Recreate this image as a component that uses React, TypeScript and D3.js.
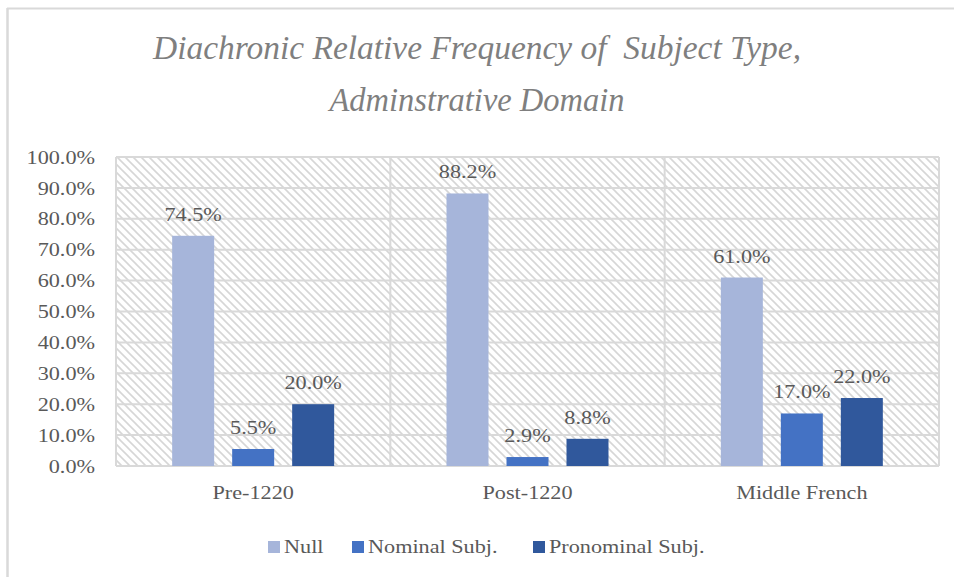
import React from "react";
import * as d3 from "d3";

const categories = ["Pre-1220", "Post-1220", "Middle French"];
const seriesNames = ["Null", "Nominal Subj.", "Pronominal Subj."];
const nullValues = [74.5, 88.2, 61.0];
const nominalValues = [5.5, 2.9, 17.0];
const pronominalValues = [20.0, 8.8, 22.0];
const yTicks = [0, 10, 20, 30, 40, 50, 60, 70, 80, 90, 100];
const colors = ["#a6b5da", "#4472c4", "#30589c"];
const titleLines = ["Diachronic Relative Frequency of\u00a0 Subject Type,", "Adminstrative Domain"];

const W = 954;
const H = 577;
const plot = { left: 116, right: 939, top: 157, bottom: 466 };
const FONT = "Liberation Serif, DejaVu Serif, serif";
const SX = 1.17;

function SText(props: { x: number; y: number; anchor?: string; dy?: string; children: React.ReactNode }) {
  return (
    <text
      transform={`translate(${props.x},${props.y}) scale(${SX},1)`}
      dy={props.dy}
      textAnchor={props.anchor || "start"}
      fontFamily={FONT}
      fontSize={19}
      fill="#595959"
    >
      {props.children}
    </text>
  );
}

export default function App() {
  const series = [nullValues, nominalValues, pronominalValues];
  const x = d3.scaleBand<string>().domain(categories).range([plot.left, plot.right]).padding(0);
  const y = d3.scaleLinear().domain([0, 100]).range([plot.bottom, plot.top]);
  const inner = d3
    .scaleBand<string>()
    .domain(seriesNames)
    .range([-81, 81])
    .paddingInner(0.3)
    .paddingOuter(0);

  const legendX = [268, 352, 533];

  return (
    <svg width={W} height={H} style={{ position: "absolute", left: 0, top: 0 }}>
      <defs>
        <pattern id="hatch" width="8" height="8" patternUnits="userSpaceOnUse">
          <rect width="8" height="8" fill="#ffffff" />
          <path d="M-2,-2 L10,10 M-2,6 L2,10 M6,-2 L10,2" stroke="#d6d6d6" strokeWidth="1.6" />
        </pattern>
      </defs>
      <rect x={0} y={0} width={W} height={H} fill="#ffffff" />
      <line x1={7} y1={8.5} x2={W} y2={8.5} stroke="#d9d9d9" strokeWidth={2} />
      <line x1={7.5} y1={8} x2={7.5} y2={H} stroke="#d9d9d9" strokeWidth={2.5} />

      <text
        x={477}
        y={59}
        textAnchor="middle"
        fontFamily={FONT}
        fontStyle="italic"
        fontSize={33}
        fill="#7f7f7f"
        textLength={648}
        lengthAdjust="spacingAndGlyphs"
      >
        {titleLines[0]}
      </text>
      <text
        x={477}
        y={111}
        textAnchor="middle"
        fontFamily={FONT}
        fontStyle="italic"
        fontSize={33}
        fill="#7f7f7f"
        textLength={295}
        lengthAdjust="spacingAndGlyphs"
      >
        {titleLines[1]}
      </text>

      <rect
        x={plot.left}
        y={plot.top}
        width={plot.right - plot.left}
        height={plot.bottom - plot.top}
        fill="url(#hatch)"
      />
      {yTicks.map((t) => (
        <line
          key={"g" + t}
          x1={plot.left}
          x2={plot.right}
          y1={y(t)}
          y2={y(t)}
          stroke="#d9d9d9"
          strokeWidth={2}
        />
      ))}
      {[...categories.map((c) => x(c)!), plot.right].map((vx, i) => (
        <line key={"v" + i} x1={vx} x2={vx} y1={plot.top} y2={plot.bottom} stroke="#d9d9d9" strokeWidth={2} />
      ))}

      {yTicks.map((t) => (
        <SText key={"t" + t} x={95} y={y(t)} dy="0.35em" anchor="end">
          {t.toFixed(1) + "%"}
        </SText>
      ))}

      {categories.map((c, ci) => {
        const cx = x(c)! + x.bandwidth() / 2;
        return (
          <g key={c}>
            {series.map((vals, si) => {
              const bx = cx + inner(seriesNames[si])!;
              const v = vals[ci];
              return (
                <g key={si}>
                  <rect x={bx} y={y(v)} width={inner.bandwidth()} height={y(0) - y(v)} fill={colors[si]} />
                  <SText x={bx + inner.bandwidth() / 2} y={y(v) - 15} anchor="middle">
                    {v.toFixed(1) + "%"}
                  </SText>
                </g>
              );
            })}
            <SText x={cx} y={499} anchor="middle">
              {c}
            </SText>
          </g>
        );
      })}

      {seriesNames.map((s, i) => (
        <g key={s}>
          <rect x={legendX[i]} y={541} width={12} height={12} fill={colors[i]} />
          <SText x={legendX[i] + 16} y={553}>
            {s}
          </SText>
        </g>
      ))}
    </svg>
  );
}
